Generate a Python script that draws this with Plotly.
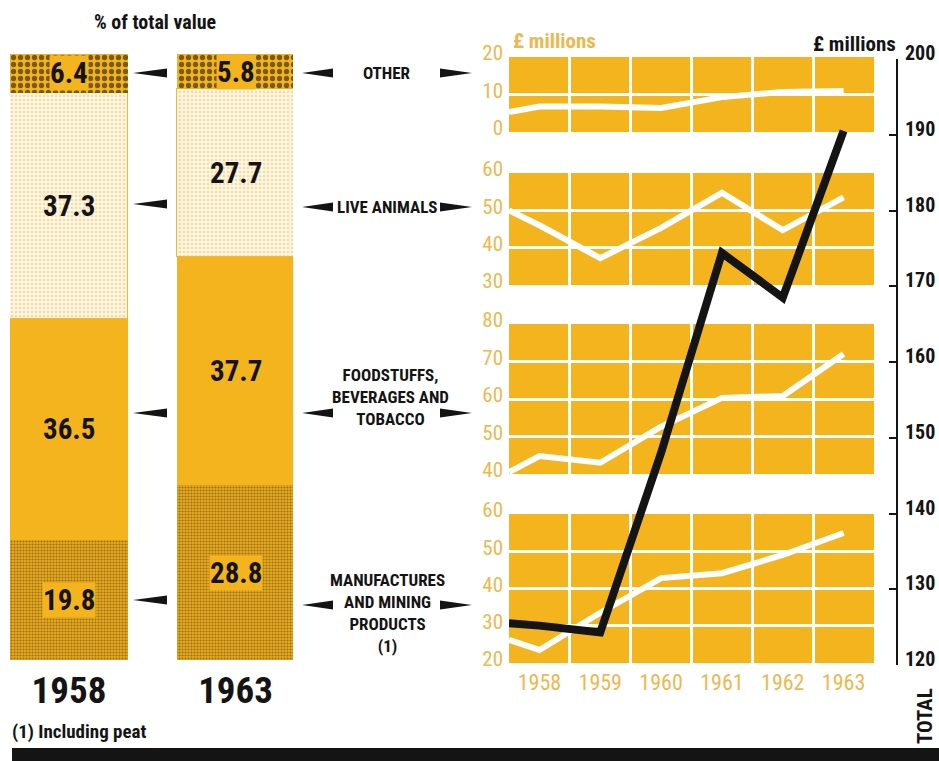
import plotly.graph_objects as go

W, H = 939, 761

# ---- share of total value (%), stacked bottom -> top ----
bar_years = ["1958", "1963"]
manufactures_pct = [19.8, 28.8]
foodstuffs_pct = [36.5, 37.7]
live_animals_pct = [37.3, 27.7]
other_pct = [6.4, 5.8]

# ---- annual values, £ millions ----
# first entry of each series is the level at which the line enters at the left frame
years = [1958, 1959, 1960, 1961, 1962, 1963]
x_start = 1957.5
other_vals = [5.3, 6.8, 6.8, 6.4, 9.3, 10.7, 10.9]
live_vals = [50.0, 46.0, 37.2, 45.3, 54.7, 44.7, 53.5]
food_vals = [40.5, 44.8, 43.0, 52.6, 60.3, 60.8, 72.0]
manuf_vals = [26.2, 23.5, 33.5, 42.8, 44.1, 49.0, 54.9]
total_vals = [125.5, 125.2, 124.3, 148.0, 174.4, 168.5, 190.5]

ORANGE = "#F4B41E"
ORANGE_TXT = "#EDB850"
CREAM = "#FFF7E4"
INK = "#141414"
NARROW = "Roboto Condensed, Liberation Sans Narrow, Liberation Sans, sans-serif"


def fx(p):
    return p / W


def fy(p):
    return 1 - p / H


def font(size, color=INK, bold=True):
    return dict(family=NARROW, size=size, color=color,
                weight="bold" if bold else "normal")


fig = go.Figure()

# ---------------- stacked share bars ----------------
bar_x = [0, 1]
segments = [
    ("Manufactures", manufactures_pct,
     dict(color=ORANGE, pattern=dict(shape=".", fgcolor="#4a3608", bgcolor="#E8AA1E", size=3, solidity=0.4)),
     dict(width=0)),
    ("Foodstuffs", foodstuffs_pct, dict(color=ORANGE), dict(width=0)),
    ("Live animals", live_animals_pct,
     dict(color=CREAM, pattern=dict(shape=".", fgcolor="#F1C060", bgcolor=CREAM, size=4, solidity=0.35)),
     dict(color="#F0B838", width=1.5)),
    ("Other", other_pct,
     dict(color=ORANGE, pattern=dict(shape=".", fgcolor="#000000", bgcolor=ORANGE, size=7, solidity=0.45)),
     dict(width=0)),
]
for name, vals, mk, ln in segments:
    mk = dict(mk)
    mk["line"] = ln
    fig.add_trace(go.Bar(x=bar_x, y=vals, name=name, width=0.703, marker=mk,
                         xaxis="x", yaxis="y", showlegend=False, hoverinfo="skip"))

# ---------------- small multiples ----------------
panels = [
    # (values, top px, bottom px, range)
    (other_vals, 57, 132, [0, 20]),
    (live_vals, 173, 285, [30, 60]),
    (food_vals, 324, 474, [40, 80]),
    (manuf_vals, 514, 663, [20, 60]),
]
line_x = [x_start] + years
x_range = [x_start, years[-1] + 0.5]
x_dom = [fx(509), fx(874)]
col_edges = [y + 0.5 for y in years[:-1]]

layout_axes = {}
shapes = []
for i, (vals, top, bot, rng) in enumerate(panels):
    n = i + 2
    fig.add_trace(go.Scatter(x=line_x, y=vals, mode="lines",
                             line=dict(color="white", width=6),
                             xaxis=f"x{n}", yaxis=f"y{n}", showlegend=False, hoverinfo="skip"))
    last = (i == len(panels) - 1)
    layout_axes[f"xaxis{n}"] = dict(
        domain=x_dom, range=x_range, anchor=f"y{n}", automargin=False,
        tickmode="array", tickvals=years, ticktext=[str(y) for y in years],
        showticklabels=last, ticks="", showgrid=False, zeroline=False, showline=False,
        tickfont=font(22, ORANGE_TXT, bold=False),
        ticklabelstandoff=4,
        minor=dict(tickmode="array", tickvals=col_edges, showgrid=True,
                   gridcolor="white", gridwidth=2.5, ticks=""),
    )
    layout_axes[f"yaxis{n}"] = dict(
        domain=[fy(bot), fy(top)], range=rng, anchor=f"x{n}", automargin=False,
        tick0=0, dtick=10, ticks="", showgrid=True, gridcolor="white", gridwidth=2.5,
        zeroline=False, showline=False, ticklabelstandoff=5, ticklabelshift=-4,
        tickfont=font(21, ORANGE_TXT, bold=False),
    )
    shapes.append(dict(type="rect", xref=f"x{n} domain", yref=f"y{n} domain",
                       x0=0, x1=1, y0=0, y1=1, fillcolor=ORANGE, line=dict(width=0),
                       layer="below"))

# ---------------- total line on its own scale ----------------
fig.add_trace(go.Scatter(x=line_x, y=total_vals, mode="lines",
                         line=dict(color=INK, width=8),
                         xaxis="x6", yaxis="y6", showlegend=False, hoverinfo="skip"))


# ---------------- decorative pointers ----------------
def arrow(tip_px, base_px, y_px, half=4.5):
    return dict(type="path", xref="paper", yref="paper",
                path=f"M {fx(tip_px)},{fy(y_px)} L {fx(base_px)},{fy(y_px - half)} "
                     f"L {fx(base_px)},{fy(y_px + half)} Z",
                fillcolor=INK, line=dict(width=0))


for y_px in [73, 204, 413, 600]:
    shapes.append(arrow(133, 167, y_px))
for y_px in [73, 207, 413, 605]:
    shapes.append(arrow(302, 333, y_px))
    shapes.append(arrow(472, 440, y_px))

# black rule along the bottom
shapes.append(dict(type="rect", xref="paper", yref="paper", x0=fx(12), x1=1.0,
                   y0=0, y1=fy(748), fillcolor=INK, line=dict(width=0)))

# ---------------- text ----------------
ann = []


def txt(x, y, s, size, color=INK, anchor="center", bold=True, **kw):
    ann.append(dict(x=fx(x), y=fy(y), xref="paper", yref="paper", text=s, showarrow=False,
                    xanchor=anchor, yanchor="middle", font=font(size, color, bold), **kw))


# segment value labels centred in each stacked segment
cum = [0.0, 0.0]
for name, vals, mk, ln in segments:
    for j, v in enumerate(vals):
        mid = cum[j] + v / 2
        cum[j] += v
        boxed = name in ("Manufactures", "Other")
        ann.append(dict(x=bar_x[j], y=mid, xref="x", yref="y", text=f"{v:.1f}",
                        showarrow=False, xanchor="center", yanchor="middle",
                        bgcolor=ORANGE if boxed else None, borderpad=0,
                        font=font(29)))

txt(155, 22, "% of total value", 20)
txt(10, 731, "(1) Including peat", 19, anchor="left")

txt(387, 73, "OTHER", 17)
txt(387, 207, "LIVE ANIMALS", 17)
txt(390, 397, "FOODSTUFFS,<br>BEVERAGES AND<br>TOBACCO", 17)
txt(387, 613, "MANUFACTURES<br>AND MINING<br>PRODUCTS<br>(1)", 17)

txt(511, 41, "£ millions", 21, color=ORANGE_TXT, anchor="left")
txt(898, 44, "£ millions", 21, anchor="right")
ann.append(dict(x=fx(925), y=fy(716), xref="paper", yref="paper", text="TOTAL",
                showarrow=False, textangle=-90, xanchor="center", yanchor="middle",
                font=font(21)))

fig.update_layout(
    width=W, height=H, autosize=False, margin=dict(l=0, r=0, t=0, b=0, autoexpand=False),
    paper_bgcolor="white", plot_bgcolor="rgba(0,0,0,0)",
    barmode="stack", bargap=0, showlegend=False,
    xaxis=dict(domain=[fx(10), fx(293)], range=[-0.354, 1.345], anchor="y", automargin=False,
               tickmode="array", tickvals=bar_x, ticktext=bar_years, ticks="",
               showgrid=False, zeroline=False, showline=False, ticklabelstandoff=5,
               tickfont=font(37)),
    yaxis=dict(domain=[fy(660), fy(54)], range=[0, 100], visible=False, automargin=False),
    xaxis6=dict(domain=x_dom, range=x_range, anchor="y6", visible=False, automargin=False),
    yaxis6=dict(domain=[fy(665), fy(59)], range=[120, 200], anchor="free", automargin=False,
                position=fx(897), side="right", showline=True, linecolor=INK, linewidth=2,
                ticks="inside", ticklen=7, tickwidth=2, tickcolor=INK,
                tick0=120, dtick=10, showgrid=False, zeroline=False,
                ticklabelstandoff=3, ticklabelshift=-6,
                tickfont=font(20)),
    shapes=shapes, annotations=ann,
)
fig.update_layout(**layout_axes)

fig.write_html("out.html", config={"responsive": False, "displayModeBar": False})
